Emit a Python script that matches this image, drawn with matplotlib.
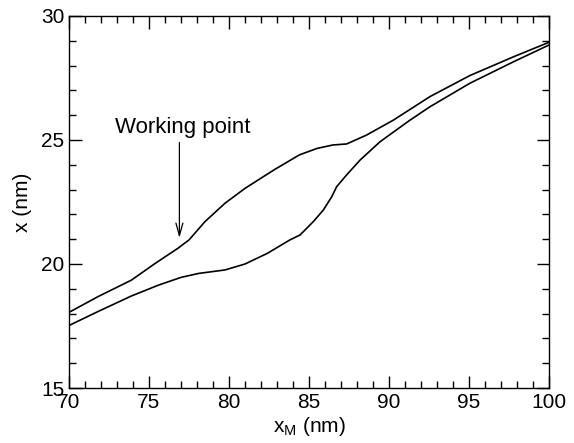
import matplotlib.pyplot as plt
from matplotlib.ticker import MultipleLocator

plt.rcParams['font.family'] = ['Liberation Sans', 'DejaVu Sans']

# upper branch
xm_upper = [70.0, 71.8, 73.9, 75.4, 76.8, 77.5, 78.5, 79.75, 81.0, 82.8, 84.4,
            85.5, 86.5, 87.35, 88.6, 90.27, 92.56, 95.06, 97.8, 100.0]
x_upper = [18.05, 18.68, 19.35, 20.03, 20.63, 20.97, 21.71, 22.45, 23.05, 23.79, 24.4,
           24.66, 24.8, 24.84, 25.2, 25.8, 26.75, 27.6, 28.36, 28.94]

# lower branch
xm_lower = [70.0, 71.8, 73.9, 75.6, 77.0, 78.1, 79.75, 81.0, 82.4, 83.8, 84.44,
            85.27, 85.9, 86.42, 86.73, 87.35, 88.19, 89.44, 91.31, 92.56, 95.06,
            97.8, 100.0]
x_lower = [17.52, 18.08, 18.71, 19.15, 19.46, 19.62, 19.76, 20.0, 20.43, 20.97, 21.17,
           21.71, 22.18, 22.71, 23.12, 23.59, 24.19, 24.93, 25.8, 26.34, 27.29,
           28.16, 28.83]

fig = plt.figure(figsize=(5.74, 4.43), dpi=100)
ax = fig.add_axes([69 / 574, 1 - 388 / 443, 480 / 574, 372 / 443])

ax.plot(xm_upper, x_upper, color='black', lw=1.2, solid_joinstyle='round')
ax.plot(xm_lower, x_lower, color='black', lw=1.2, solid_joinstyle='round')

ax.annotate('', xy=(76.9, 21.05), xytext=(76.9, 24.9),
            arrowprops=dict(arrowstyle='->,head_length=0.9,head_width=0.25',
                            color='black', lw=0.9, shrinkA=0, shrinkB=0))
ax.text(77.1, 25.5, 'Working point', ha='center', va='center', fontsize=16)

ax.set_xlim(70, 100)
ax.set_ylim(15, 30)
ax.xaxis.set_major_locator(MultipleLocator(5))
ax.xaxis.set_minor_locator(MultipleLocator(1))
ax.yaxis.set_major_locator(MultipleLocator(5))
ax.yaxis.set_minor_locator(MultipleLocator(1))
ax.tick_params(which='both', direction='in', top=True, right=True, labelsize=15, width=1)
ax.tick_params(which='major', length=9)
ax.tick_params(which='minor', length=5)
for s in ax.spines.values():
    s.set_linewidth(1)

ax.set_xlabel('x$_\\mathregular{M}$ (nm)', fontsize=15, labelpad=2)
ax.set_ylabel('x (nm)', fontsize=15, labelpad=6)

fig.savefig('out.png', dpi=100)
